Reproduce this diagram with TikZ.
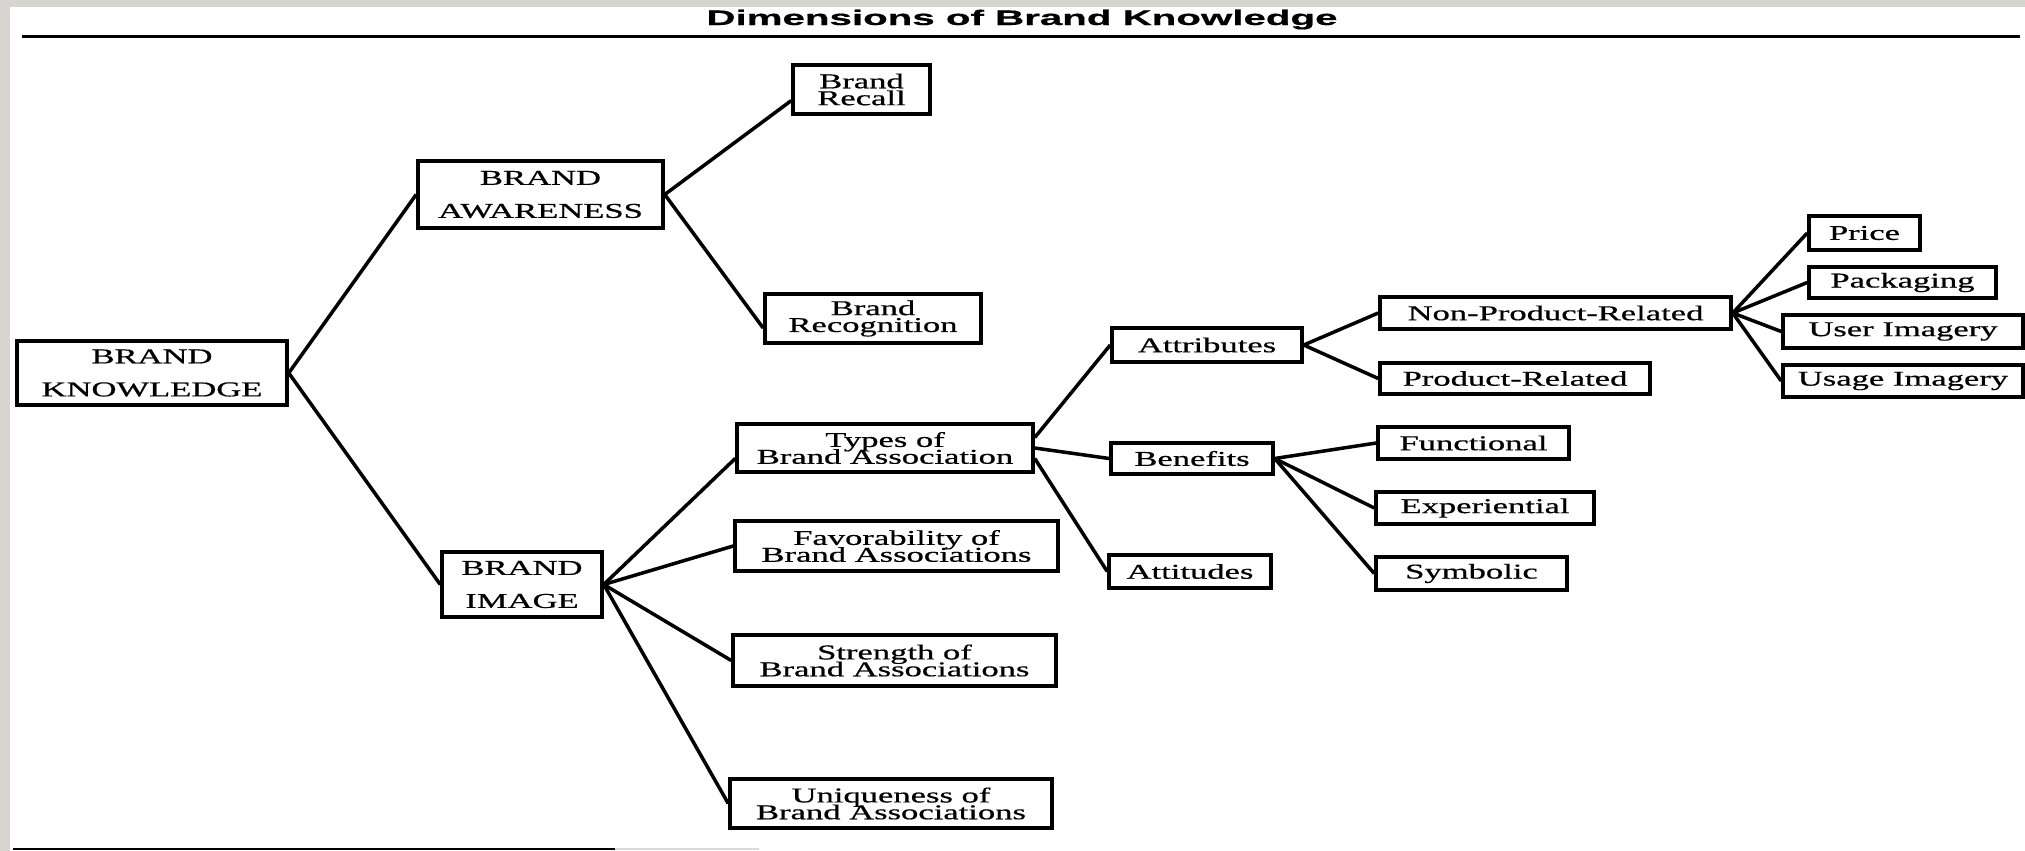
\documentclass[tikz,border=0pt]{standalone}
\usepackage{fontspec}
\setmainfont{Liberation Serif}[FakeBold=0.5]
\newfontfamily\titlefont{Liberation Sans}[FakeBold=0.5]
\usepackage{graphicx}
\usepackage{xcolor}

\definecolor{scangray}{RGB}{216,213,208}
\newcommand{\wtxt}[1]{\scalebox{1.64}[1]{#1}}
\newcommand{\wstack}[3][4.8pt]{\wtxt{\vbox{\baselineskip=#1\lineskiplimit=-6pt\lineskip=0pt\halign{\hfil##\hfil\cr#2\cr#3\cr}}}}

\begin{document}
\begin{tikzpicture}[
  every node/.style={font=\fontsize{6pt}{7.2pt}\selectfont},
  box/.style={draw, line width=1pt, inner sep=0pt},
  link/.style={line width=1pt},
  rule/.style={line width=0.75pt},
]
\useasboundingbox (0,0) rectangle (20.25,-8.51);
\fill[white] (0,0) rectangle (20.25,-8.51);
\fill[scangray] (0,0) rectangle (0.10,-8.51);
\fill[scangray] (0,0) rectangle (20.25,-0.07);

% Title and rules
\node[font=\titlefont\bfseries\fontsize{6pt}{7.2pt}\selectfont, anchor=base, inner sep=0pt]
  (title) at (10.22,-0.25) {\scalebox{1.91}[1]{Dimensions of Brand Knowledge}};
\draw[rule] (0.22,-0.365) -- (20.20,-0.365);
\draw[rule] (0.13,-8.49) -- (6.15,-8.49);
\draw[rule, black!15] (6.15,-8.49) -- (7.59,-8.49);

% Level 1: root
\node[box, minimum width=2.70cm, minimum height=0.64cm] (bk) at (1.52,-3.73)
  {\wstack[9.4pt]{BRAND}{KNOWLEDGE}};

% Level 2: awareness and image
\node[box, minimum width=2.45cm, minimum height=0.67cm] (ba) at (5.405,-1.945)
  {\wstack[9.4pt]{BRAND}{AWARENESS}};
\node[box, minimum width=1.60cm, minimum height=0.65cm] (bi) at (5.22,-5.845)
  {\wstack[9.4pt]{BRAND}{IMAGE}};

% Level 3: awareness branch
\node[box, minimum width=1.37cm, minimum height=0.49cm] (recall) at (8.615,-0.895)
  {\wstack{Brand}{Recall}};
\node[box, minimum width=2.16cm, minimum height=0.49cm] (recog) at (8.73,-3.185)
  {\wstack{Brand}{Recognition}};

% Level 3: image branch
\node[box, minimum width=2.96cm, minimum height=0.48cm] (types) at (8.85,-4.48)
  {\wstack{Types of}{Brand Association}};
\node[box, minimum width=3.23cm, minimum height=0.50cm] (fav) at (8.965,-5.46)
  {\wstack{Favorability of}{Brand Associations}};
\node[box, minimum width=3.23cm, minimum height=0.51cm] (strength) at (8.945,-6.605)
  {\wstack{Strength of}{Brand Associations}};
\node[box, minimum width=3.22cm, minimum height=0.49cm] (uniq) at (8.91,-8.035)
  {\wstack{Uniqueness of}{Brand Associations}};

% Level 4: types of association
\node[box, minimum width=1.90cm, minimum height=0.34cm] (attr) at (12.07,-3.45) {\wtxt{Attributes}};
\node[box, minimum width=1.62cm, minimum height=0.31cm] (benef) at (11.92,-4.585) {\wtxt{Benefits}};
\node[box, minimum width=1.62cm, minimum height=0.33cm] (attit) at (11.90,-5.715) {\wtxt{Attitudes}};

% Level 5: attributes and benefits
\node[box, minimum width=3.51cm, minimum height=0.32cm] (npr) at (15.555,-3.13) {\wtxt{Non-Product-Related}};
\node[box, minimum width=2.70cm, minimum height=0.31cm] (pr) at (15.15,-3.785) {\wtxt{Product-Related}};
\node[box, minimum width=1.91cm, minimum height=0.32cm] (func) at (14.735,-4.43) {\wtxt{Functional}};
\node[box, minimum width=2.18cm, minimum height=0.32cm] (exper) at (14.85,-5.08) {\wtxt{Experiential}};
\node[box, minimum width=1.91cm, minimum height=0.33cm] (symb) at (14.715,-5.735) {\wtxt{Symbolic}};

% Level 6: non-product-related
\node[box, minimum width=1.11cm, minimum height=0.34cm] (price) at (18.645,-2.33) {\wtxt{Price}};
\node[box, minimum width=1.87cm, minimum height=0.31cm] (pack) at (19.025,-2.825) {\wtxt{Packaging}};
\node[box, minimum width=2.40cm, minimum height=0.33cm] (user) at (19.03,-3.315) {\wtxt{User Imagery}};
\node[box, minimum width=2.40cm, minimum height=0.32cm] (usage) at (19.03,-3.81) {\wtxt{Usage Imagery}};

% Links: knowledge
\draw[link] (bk.east) -- (ba.west);
\draw[link] (bk.east) -- (bi.west);

% Links: awareness
\draw[link] (ba.east) -- (recall.189);
\draw[link] (ba.east) -- (recog.185);

% Links: image
\draw[link] (bi.east) -- (types.184);
\draw[link] (bi.east) -- (fav.west);
\draw[link] (bi.east) -- (strength.west);
\draw[link] (bi.east) -- (uniq.west);

% Links: types
\draw[link] (types.4) -- (attr.west);
\draw[link] (types.east) -- (benef.west);
\draw[link] (types.356) -- (attit.west);

% Links: attributes and benefits
\draw[link] (attr.east) -- (npr.west);
\draw[link] (attr.east) -- (pr.west);
\draw[link] (benef.east) -- (func.west);
\draw[link] (benef.east) -- (exper.west);
\draw[link] (benef.east) -- (symb.west);

% Links: non-product-related
\draw[link] (npr.east) -- (price.west);
\draw[link] (npr.east) -- (pack.west);
\draw[link] (npr.east) -- (user.west);
\draw[link] (npr.east) -- (usage.west);

\end{tikzpicture}
\end{document}
